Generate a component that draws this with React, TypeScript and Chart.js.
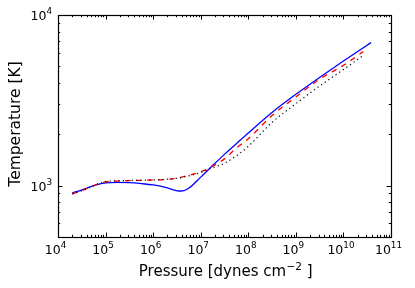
import React, { useEffect, useRef } from "react";
import { Chart, registerables } from "chart.js";

Chart.register(...registerables);

// ---- data (pressure in dynes cm^-2, temperature in K) ----
const pressureBlue = [2.0e4, 3.2e4, 5.6e4, 1.0e5, 1.8e5, 3.2e5, 5.6e5, 1.0e6, 1.8e6, 3.2e6, 4.0e6, 5.6e6, 1.0e7, 1.8e7, 3.2e7, 5.6e7, 1.0e8, 3.2e8, 1.0e9, 3.2e9, 1.0e10, 3.8e10];
const tempBlue = [906, 944, 1000, 1037, 1045, 1042, 1028, 1009, 977, 933, 930, 966, 1122, 1315, 1530, 1760, 2035, 2692, 3428, 4315, 5370, 6890];

const pressureRed = [2.0e4, 3.2e4, 5.6e4, 1.0e5, 1.8e5, 3.2e5, 1.0e6, 1.8e6, 3.2e6, 5.6e6, 1.0e7, 1.8e7, 3.2e7, 5.6e7, 1.0e8, 3.2e8, 1.0e9, 3.2e9, 1.0e10, 2.6e10];
const tempRed = [895, 935, 1000, 1052, 1064, 1070, 1079, 1086, 1107, 1150, 1205, 1300, 1440, 1660, 1884, 2582, 3311, 4217, 5070, 6100];

const pressureBlack = [2.0e4, 3.2e4, 5.6e4, 1.0e5, 1.8e5, 3.2e5, 1.0e6, 1.8e6, 3.2e6, 5.6e6, 1.0e7, 1.8e7, 3.2e7, 5.6e7, 1.0e8, 3.2e8, 1.0e9, 3.2e9, 1.0e10, 2.7e10];
const tempBlack = [895, 935, 1000, 1055, 1068, 1072, 1080, 1088, 1105, 1140, 1195, 1275, 1355, 1495, 1700, 2355, 3020, 3846, 4786, 5840];

const xTickExponents = [4, 5, 6, 7, 8, 9, 10, 11];
const yTickExponents = [3, 4];
const yMinorTicks = [600, 700, 800, 900, 2000, 3000, 4000, 5000, 6000, 7000, 8000, 9000];
const xTitleMain = "Pressure [dynes cm";
const xTitleSup = "\u22122";
const xTitleEnd = " ]";
const yTitle = "Temperature [K]";

const FONT = "'DejaVu Sans', sans-serif";

const toPoints = (xs: number[], ys: number[]) => xs.map((x, i) => ({ x, y: ys[i] }));

const framePlugin = {
  id: "mplFrame",
  afterDraw(chart: any) {
    const ctx: CanvasRenderingContext2D = chart.ctx;
    const { left, right, top, bottom } = chart.chartArea;
    const xs = chart.scales.x;
    const ys = chart.scales.y;
    ctx.save();
    ctx.strokeStyle = "#000";
    ctx.fillStyle = "#000";
    ctx.lineWidth = 1;

    const major = 4.5;
    const minor = 2.2;
    // x ticks
    const xMin = xTickExponents[0];
    const xMax = xTickExponents[xTickExponents.length - 1];
    ctx.beginPath();
    for (let e = xMin; e <= xMax; e++) {
      const px = Math.round(xs.getPixelForValue(Math.pow(10, e))) + 0.5;
      ctx.moveTo(px, bottom); ctx.lineTo(px, bottom - major);
      ctx.moveTo(px, top); ctx.lineTo(px, top + major);
      if (e < xMax) {
        for (let m = 2; m <= 9; m++) {
          const p = Math.round(xs.getPixelForValue(m * Math.pow(10, e))) + 0.5;
          ctx.moveTo(p, bottom); ctx.lineTo(p, bottom - minor);
          ctx.moveTo(p, top); ctx.lineTo(p, top + minor);
        }
      }
    }
    // y ticks
    yTickExponents.forEach((e) => {
      const py = Math.round(ys.getPixelForValue(Math.pow(10, e))) + 0.5;
      ctx.moveTo(left, py); ctx.lineTo(left + major, py);
      ctx.moveTo(right, py); ctx.lineTo(right - major, py);
    });
    yMinorTicks.forEach((v) => {
      const py = Math.round(ys.getPixelForValue(v)) + 0.5;
      ctx.moveTo(left, py); ctx.lineTo(left + minor, py);
      ctx.moveTo(right, py); ctx.lineTo(right - minor, py);
    });
    ctx.stroke();

    // frame
    ctx.lineWidth = 1.2;
    ctx.strokeRect(Math.round(left) + 0.5, Math.round(top) + 0.5, Math.round(right - left), Math.round(bottom - top));

    // tick labels
    const mainFont = `12.5px ${FONT}`;
    const supFont = `8.8px ${FONT}`;
    ctx.textBaseline = "alphabetic";
    ctx.textAlign = "left";
    xTickExponents.forEach((e) => {
      const px = xs.getPixelForValue(Math.pow(10, e));
      ctx.font = mainFont;
      const w1 = ctx.measureText("10").width;
      ctx.font = supFont;
      const w2 = ctx.measureText(String(e)).width;
      const start = px - (w1 + w2) / 2 - 2.5;
      ctx.font = mainFont;
      ctx.fillText("10", start, bottom + 16.5);
      ctx.font = supFont;
      ctx.fillText(String(e), start + w1, bottom + 10.5);
    });
    yTickExponents.forEach((e) => {
      const py = ys.getPixelForValue(Math.pow(10, e));
      ctx.font = mainFont;
      const w1 = ctx.measureText("10").width;
      ctx.font = supFont;
      const w2 = ctx.measureText(String(e)).width;
      const start = left - 6 - (w1 + w2);
      ctx.font = mainFont;
      ctx.fillText("10", start, py + 5);
      ctx.font = supFont;
      ctx.fillText(String(e), start + w1, py - 1);
    });

    // x title
    const tFont = `15px ${FONT}`;
    const tSup = `10.5px ${FONT}`;
    ctx.font = tFont;
    const a = ctx.measureText(xTitleMain).width;
    const c = ctx.measureText(xTitleEnd).width;
    ctx.font = tSup;
    const b = ctx.measureText(xTitleSup).width;
    const cx = (left + right) / 2 + 1;
    const sx = cx - (a + b + c) / 2;
    const base = bottom + 39;
    ctx.font = tFont;
    ctx.fillText(xTitleMain, sx, base);
    ctx.font = tSup;
    ctx.fillText(xTitleSup, sx + a + 0.5, base - 6);
    ctx.font = tFont;
    ctx.fillText(xTitleEnd, sx + a + b + 0.5, base);

    // y title
    ctx.save();
    ctx.translate(19.5, (top + bottom) / 2 - 2);
    ctx.rotate(-Math.PI / 2);
    ctx.font = `15.5px ${FONT}`;
    ctx.textAlign = "center";
    ctx.fillText(yTitle, 0, 0);
    ctx.restore();

    ctx.restore();
  },
};

export default function App() {
  const ref = useRef<HTMLCanvasElement | null>(null);
  useEffect(() => {
    if (!ref.current) return;
    const chart = new Chart(ref.current, {
      type: "line",
      data: {
        datasets: [
          {
            label: "solid",
            data: toPoints(pressureBlue, tempBlue),
            borderColor: "#0000ff",
            borderWidth: 1.3,
            pointRadius: 0,
            cubicInterpolationMode: "monotone",
            fill: false,
            order: 3,
          },
          {
            label: "dashed",
            data: toPoints(pressureRed, tempRed),
            borderColor: "#ff0000",
            borderWidth: 1.3,
            borderDash: [5.5, 5.5],
            pointRadius: 0,
            cubicInterpolationMode: "monotone",
            fill: false,
            order: 2,
          },
          {
            label: "dotted",
            data: toPoints(pressureBlack, tempBlack),
            borderColor: "#000000",
            borderWidth: 1.2,
            borderDash: [1.2, 3.2],
            pointRadius: 0,
            cubicInterpolationMode: "monotone",
            fill: false,
            order: 1,
          },
        ],
      },
      options: {
        responsive: false,
        animation: false,
        devicePixelRatio: 1,
        parsing: false as any,
        layout: { padding: { left: 58, right: 24, top: 15, bottom: 51 } },
        plugins: { legend: { display: false }, tooltip: { enabled: false } },
        scales: {
          x: { type: "logarithmic", min: 1e4, max: 1e11, display: false },
          y: { type: "logarithmic", min: 500, max: 1e4, display: false },
        },
      },
      plugins: [framePlugin],
    });
    return () => chart.destroy();
  }, []);
  return (
    <canvas
      ref={ref}
      width={415}
      height={288}
      style={{ position: "absolute", left: 0, top: 0, width: 415, height: 288, background: "#fff" }}
    />
  );
}
